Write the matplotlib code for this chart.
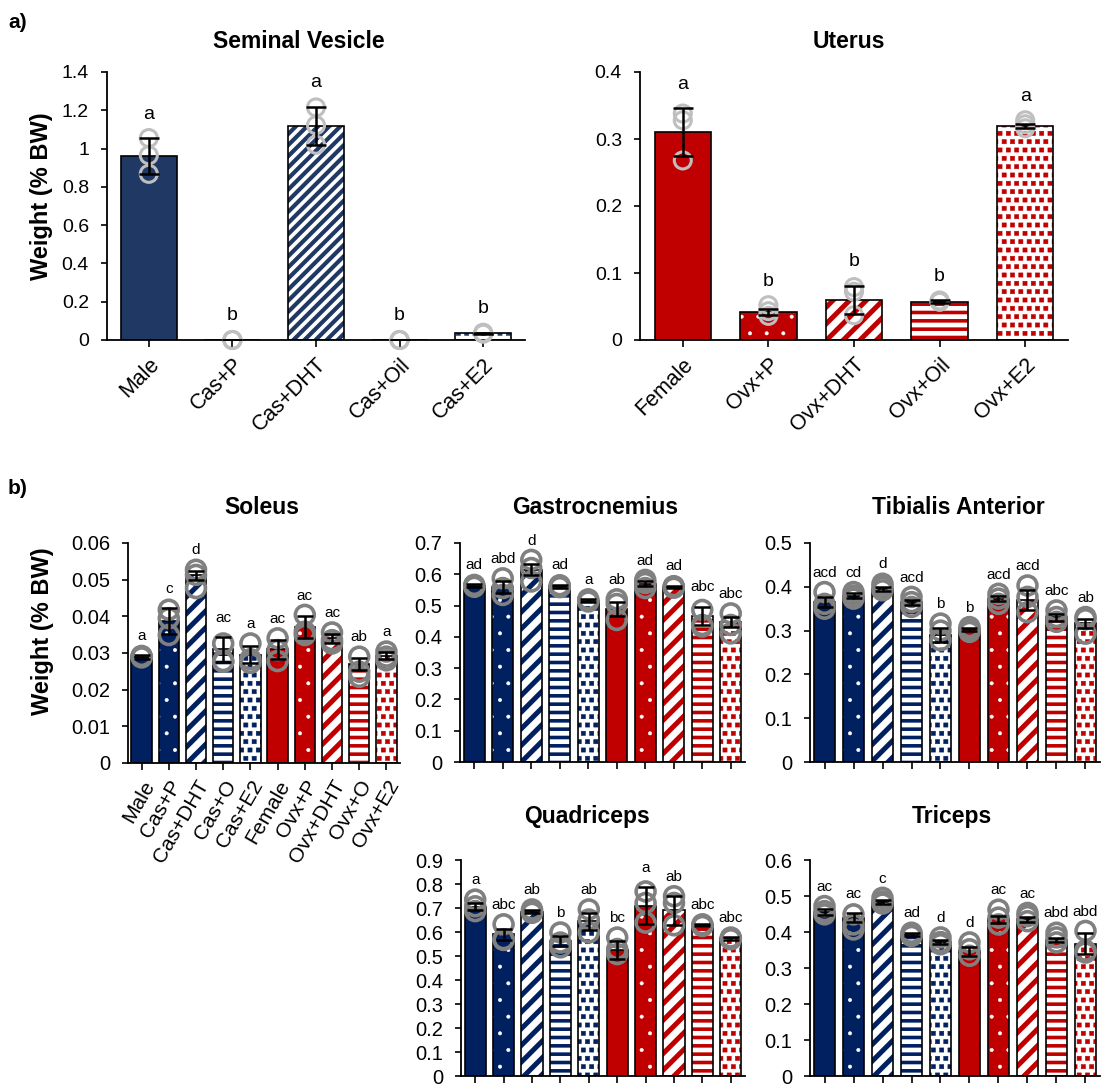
import numpy as np
import matplotlib.pyplot as plt
from matplotlib import hatch as mhatch
from matplotlib.path import Path
from matplotlib.ticker import FuncFormatter

plt.rcParams['font.family'] = ['Liberation Sans', 'DejaVu Sans']

W, H = 1102, 1088

# ---------------- data ----------------
# a) sex organs
sv_groups = ['Male', 'Cas+P', 'Cas+DHT', 'Cas+Oil', 'Cas+E2']
sv_mean = [0.96, 0.0, 1.118, 0.0, 0.035]
sv_err = [0.095, 0.002, 0.10, 0.002, 0.004]
sv_points = [[1.055, 0.965, 0.868], [0.0, 0.0, 0.0], [1.215, 1.122, 1.02],
             [0.0, 0.0, 0.0], [0.038, 0.035, 0.033]]
sv_letters = ['a', 'b', 'a', 'b', 'b']

ut_groups = ['Female', 'Ovx+P', 'Ovx+DHT', 'Ovx+Oil', 'Ovx+E2']
ut_mean = [0.31, 0.042, 0.06, 0.057, 0.32]
ut_err = [0.036, 0.004, 0.021, 0.002, 0.003]
ut_points = [[0.338, 0.328, 0.268], [0.052, 0.043, 0.036], [0.079, 0.072, 0.037],
             [0.059, 0.058, 0.057], [0.328, 0.322, 0.316]]
ut_letters = ['a', 'b', 'b', 'b', 'a']

# b) muscles
mus_groups = ['Male', 'Cas+P', 'Cas+DHT', 'Cas+O', 'Cas+E2',
              'Female', 'Ovx+P', 'Ovx+DHT', 'Ovx+O', 'Ovx+E2']

sol_mean = [0.0290, 0.0387, 0.0512, 0.0310, 0.0295, 0.0310, 0.0370, 0.0340, 0.0270, 0.0293]
sol_err = [0.0005, 0.0035, 0.0012, 0.0034, 0.0023, 0.0025, 0.0030, 0.0012, 0.0016, 0.0009]
sol_points = [[0.0292, 0.0290, 0.0288], [0.0418, 0.0395, 0.0349], [0.0527, 0.0513, 0.0477],
              [0.0326, 0.0278, 0.0276], [0.0326, 0.0283, 0.0273], [0.0340, 0.0308, 0.0278],
              [0.0404, 0.0358, 0.0349], [0.0356, 0.0335, 0.0326], [0.0290, 0.0249, 0.0235],
              [0.0304, 0.0290, 0.0280]]
sol_letters = ['a', 'c', 'd', 'ac', 'a', 'ac', 'ac', 'ac', 'ab', 'a']

gas_mean = [0.563, 0.560, 0.615, 0.562, 0.516, 0.490, 0.570, 0.560, 0.467, 0.447]
gas_err = [0.005, 0.020, 0.017, 0.005, 0.004, 0.022, 0.008, 0.004, 0.030, 0.015]
gas_points = [[0.566, 0.563, 0.560], [0.587, 0.556, 0.534], [0.646, 0.620, 0.577],
              [0.565, 0.561, 0.559], [0.520, 0.516, 0.513], [0.520, 0.505, 0.454],
              [0.582, 0.572, 0.556], [0.562, 0.560, 0.557], [0.486, 0.438, 0.433],
              [0.475, 0.438, 0.411]]
gas_letters = ['ad', 'abd', 'd', 'ad', 'a', 'ab', 'ad', 'ad', 'abc', 'abc']

tib_mean = [0.365, 0.380, 0.395, 0.365, 0.290, 0.303, 0.373, 0.370, 0.330, 0.317]
tib_err = [0.012, 0.005, 0.004, 0.006, 0.016, 0.004, 0.006, 0.022, 0.007, 0.010]
tib_points = [[0.388, 0.361, 0.350], [0.388, 0.380, 0.373], [0.407, 0.400, 0.392],
              [0.377, 0.365, 0.354], [0.316, 0.300, 0.278], [0.308, 0.304, 0.297],
              [0.384, 0.373, 0.361], [0.403, 0.377, 0.342], [0.346, 0.331, 0.320],
              [0.331, 0.326, 0.293]]
tib_letters = ['acd', 'cd', 'd', 'acd', 'b', 'b', 'acd', 'acd', 'abc', 'ab']

quad_mean = [0.705, 0.590, 0.685, 0.563, 0.645, 0.526, 0.710, 0.690, 0.628, 0.573]
quad_err = [0.015, 0.022, 0.005, 0.022, 0.035, 0.037, 0.077, 0.060, 0.005, 0.005]
quad_points = [[0.735, 0.707, 0.687], [0.632, 0.570, 0.567], [0.694, 0.687, 0.680],
               [0.598, 0.556, 0.536], [0.694, 0.652, 0.598], [0.577, 0.529, 0.508],
               [0.769, 0.721, 0.639], [0.749, 0.721, 0.628], [0.632, 0.628, 0.625],
               [0.577, 0.572, 0.570]]
quad_letters = ['a', 'abc', 'ab', 'b', 'ab', 'bc', 'a', 'ab', 'abc', 'abc']

tri_mean = [0.455, 0.440, 0.483, 0.393, 0.372, 0.346, 0.435, 0.435, 0.378, 0.368]
tri_err = [0.008, 0.012, 0.006, 0.004, 0.005, 0.012, 0.010, 0.007, 0.006, 0.030]
tri_points = [[0.472, 0.458, 0.449], [0.449, 0.421, 0.407], [0.495, 0.485, 0.479],
              [0.398, 0.393, 0.389], [0.385, 0.372, 0.366], [0.371, 0.352, 0.334],
              [0.462, 0.440, 0.421], [0.453, 0.444, 0.430], [0.398, 0.385, 0.371],
              [0.403, 0.348, 0.343]]
tri_letters = ['ac', 'ac', 'c', 'ad', 'd', 'd', 'ac', 'ac', 'abd', 'abd']

NAVY_A = '#203864'
NAVY_B = '#002060'
RED = '#C00000'


# Excel-like "small confetti": swap the star hatch for filled squares
class SquareHatch(mhatch.Shapes):
    size = 0.5
    filled = True

    def __init__(self, hatch, density):
        self.num_rows = hatch.count('*') * density
        rect = Path.unit_rectangle()
        self.shape_vertices = rect.vertices - 0.5
        self.shape_codes = rect.codes
        super().__init__(hatch, density)


mhatch._hatch_types[mhatch._hatch_types.index(mhatch.Stars)] = SquareHatch

KINDS = ['solid', 'dots', 'diag', 'horiz', 'squares']


def draw_bar(ax, x, h, width, color, kind, diag='//', diag_lw=3.6):
    if kind == 'solid':
        ax.bar(x, h, width, color=color, edgecolor='black', linewidth=1.2, zorder=2)
        return
    if kind == 'dots':
        face, hcol, hatch, hlw = color, 'white', '.', 0.4
    elif kind == 'diag':
        face, hcol, hatch, hlw = 'white', color, diag, diag_lw
    elif kind == 'horiz':
        face, hcol, hatch, hlw = 'white', color, '--', 2.6
    else:
        face, hcol, hatch, hlw = 'white', color, '**', 0.4
    with plt.rc_context({'hatch.linewidth': hlw}):
        bars = ax.bar(x, h, width, color=face, edgecolor=hcol, linewidth=0,
                      hatch=hatch, zorder=2)
    for b in bars:
        if hasattr(b, 'set_hatch_linewidth'):
            b.set_hatch_linewidth(hlw)
    ax.bar(x, h, width, fill=False, edgecolor='black', linewidth=1.2, zorder=2)


def place(l, t, r, b):
    return fig.add_axes([l / W, 1 - b / H, (r - l) / W, (b - t) / H])


def panel(ax, means, errs, points, letters, colors, ymax, ystep,
          width, circ, circ_size, circ_lw, ytick_fs, let_fs, let_off, capsize,
          diag='//', diag_lw=3.6):
    n = len(means)
    for i in range(n):
        draw_bar(ax, i, means[i], width, colors[i], KINDS[i % 5], diag, diag_lw)
        ax.scatter(np.full(len(points[i]), i), points[i], s=circ_size,
                   facecolors='none', edgecolors=circ, linewidths=circ_lw,
                   zorder=3, clip_on=False)
        top = max(max(points[i]), means[i] + errs[i])
        ax.annotate(letters[i], xy=(i, top), xytext=(0, let_off),
                    textcoords='offset points', ha='center', va='baseline',
                    fontsize=let_fs, annotation_clip=False)
    ax.errorbar(range(n), means, yerr=errs, fmt='none', ecolor='black',
                elinewidth=1.8, capsize=capsize, capthick=1.8, zorder=4)
    ax.set_xlim(-0.5, n - 0.5)
    ax.set_ylim(0, ymax)
    ax.set_yticks(np.round(np.arange(0, ymax + ystep / 2, ystep), 3))
    ax.yaxis.set_major_formatter(FuncFormatter(lambda v, _: f'{v:g}'))
    ax.set_xticks(range(n))
    for s in ['top', 'right']:
        ax.spines[s].set_visible(False)
    for s in ['left', 'bottom']:
        ax.spines[s].set_linewidth(1.3)
    ax.tick_params(axis='y', direction='out', length=4, width=1.2, pad=9,
                   labelsize=ytick_fs)
    ax.tick_params(axis='x', direction='out', length=5, width=1.2, pad=5)


def ftext(x, y, s, **kw):
    fig.text(x / W, 1 - y / H, s, ha='center', va='center', **kw)


fig = plt.figure(figsize=(W / 100, H / 100), dpi=100)

# ---- a) ----
ax = place(107, 72, 525, 340)
panel(ax, sv_mean, sv_err, sv_points, sv_letters, [NAVY_A] * 5, 1.4, 0.2,
      0.67, '#BFBFBF', 150, 2.2, 14, 14, 14, 7, diag='///', diag_lw=3.0)
ax.set_xticklabels(sv_groups, rotation=45, ha='right', rotation_mode='anchor',
                   fontsize=15.5)
ftext(299, 42, 'Seminal Vesicle', fontsize=16.5, fontweight='bold')
ftext(42, 196, 'Weight (% BW)', fontsize=17, fontweight='bold', rotation=90)

ax = place(640, 72, 1068, 340)
panel(ax, ut_mean, ut_err, ut_points, ut_letters, [RED] * 5, 0.4, 0.1,
      0.66, '#BFBFBF', 150, 2.2, 14, 14, 14, 7)
ax.set_xticklabels(ut_groups, rotation=45, ha='right', rotation_mode='anchor',
                   fontsize=15.5)
ftext(849, 42, 'Uterus', fontsize=16.5, fontweight='bold')

# ---- b) ----
mus_colors = [NAVY_B] * 5 + [RED] * 5
muscles = [
    ((128, 543, 400, 763), sol_mean, sol_err, sol_points, sol_letters, 0.06, 0.01, 'Soleus', (262, 507)),
    ((460, 543, 745, 762), gas_mean, gas_err, gas_points, gas_letters, 0.7, 0.1, 'Gastrocnemius', (595, 507)),
    ((810, 543, 1100, 762), tib_mean, tib_err, tib_points, tib_letters, 0.5, 0.1, 'Tibialis Anterior', (958, 507)),
    ((461, 860, 745, 1076), quad_mean, quad_err, quad_points, quad_letters, 0.9, 0.1, 'Quadriceps', (587, 817)),
    ((810, 860, 1100, 1076), tri_mean, tri_err, tri_points, tri_letters, 0.6, 0.1, 'Triceps', (952, 816)),
]
for k, (box, m, e, p, lt, ymax, step, title, tpos) in enumerate(muscles):
    ax = place(*box)
    panel(ax, m, e, p, lt, mus_colors, ymax, step, 0.75, '#808080', 185, 2.6,
          14.5, 11, 11, 6)
    if k == 0:
        ax.set_xticklabels(mus_groups, rotation=60, ha='right',
                           rotation_mode='anchor', fontsize=15)
    else:
        ax.set_xticklabels([])
    ftext(tpos[0], tpos[1], title, fontsize=16.5, fontweight='bold')

ftext(43, 631, 'Weight (% BW)', fontsize=17, fontweight='bold', rotation=90)

ftext(18, 22, 'a)', fontsize=15, fontweight='bold')
ftext(18, 489, 'b)', fontsize=15, fontweight='bold')

fig.savefig('out.png', dpi=100)
